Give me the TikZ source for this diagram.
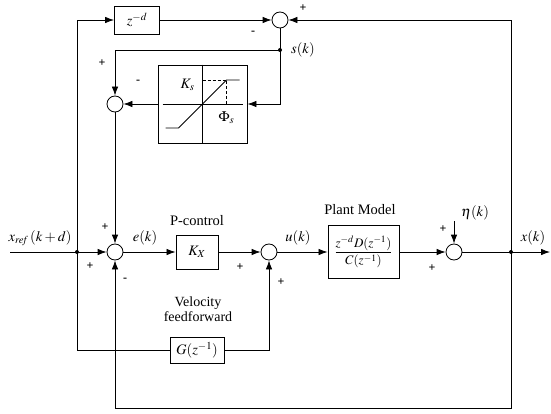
\documentclass[tikz,border=0pt]{standalone}
\usepackage{mathptmx}
\usepackage[no-math]{fontspec}
\setmainfont{Liberation Serif}
\usepackage{amsmath}
\usetikzlibrary{arrows.meta, positioning, calc}

\begin{document}
\begin{tikzpicture}[
  x=1pt, y=-1pt,
  font=\fontsize{14.5}{16}\selectfont,
  blk/.style={draw, line width=0.9pt, inner sep=0pt, align=center},
  sumc/.style={draw, circle, line width=0.8pt, minimum size=16pt, inner sep=0pt},
  arr/.style={-{Latex[length=9pt,width=6.5pt]}, line width=0.8pt},
  ln/.style={line width=0.8pt},
  sgn/.style={font=\fontsize{12}{13}\selectfont\bfseries, inner sep=0pt},
  lbl/.style={inner sep=0pt, align=center}
]
  \useasboundingbox (0,0) rectangle (551,414);

  % blocks
  \node[blk, minimum width=45pt, minimum height=28pt] (zd) at (137,20) {$z^{-d}$};
  \node[blk, minimum width=89pt, minimum height=78pt] (sat) at (202.5,104) {};
  \node[blk, minimum width=42pt, minimum height=34pt] (kx) at (197,252) {$K_X$};
  \node[blk, minimum width=71pt, minimum height=53pt] (plant) at (363.5,252)
    {\fontsize{13}{15}\selectfont$\dfrac{z^{-d}D(z^{-1})}{C(z^{-1})}$};
  \node[blk, minimum width=54pt, minimum height=26pt] (g) at (197,350) {$G(z^{-1})$};

  % summing points
  \node[sumc] (s1) at (280,20) {};
  \node[sumc] (s2) at (115,104) {};
  \node[sumc] (s3) at (115,252) {};
  \node[sumc] (s4) at (269,252) {};
  \node[sumc] (s5) at (454,252) {};

  % junctions and free ends
  \coordinate (sj) at (280,50);
  \coordinate (xj) at (77,252);
  \coordinate (xin) at (10,252);
  \coordinate (oj) at (511,252);
  \coordinate (xout) at (550,252);
  \coordinate (etain) at (454,221);
  \coordinate (fb) at (115,408);

  % saturation characteristic
  \draw[ln] ($(sat.center)+(-40,0)$) -- ($(sat.center)+(40,0)$);
  \draw[ln] (sat.north) -- (sat.south);
  \draw[ln] ($(sat.center)+(-37,24)$) -- ($(sat.center)+(-24,24)$)
    -- ($(sat.center)+(24,-24)$) -- ($(sat.center)+(37,-24)$);
  \draw[ln, densely dashed] ($(sat.center)+(0,-24)$) -- ($(sat.center)+(24,-24)$)
    -- ($(sat.center)+(24,0)$);
  \node[lbl] (ks) at ($(sat.center)+(-15,-19)$) {$K_s$};
  \node[lbl] (phis) at ($(sat.center)+(24,14)$) {$\Phi_s$};

  % forward path
  \draw[arr] (xin) -- (s3);
  \draw[arr] (s3) -- (kx);
  \draw[arr] (kx) -- (s4);
  \draw[arr] (s4) -- (plant);
  \draw[arr] (plant) -- (s5);
  \draw[arr] (s5) -- (xout);
  \draw[arr] (etain) -- (s5);

  % reference branches
  \draw[arr] (xj) |- (zd);
  \draw[ln] (xj) |- (g);
  \draw[arr] (g) -| (s4);

  % feedback paths
  \draw[ln] (oj) -- (oj |- fb) -- (fb);
  \draw[arr] (fb) -- (s3);
  \draw[arr] (oj) |- (s1);
  \draw[arr] (zd) -- (s1);
  \draw[ln] (s1) -- (sj);
  \draw[arr] (sj) |- (sat);
  \draw[arr] (sj) -| (s2);
  \draw[arr] (sat) -- (s2);
  \draw[arr] (s2) -- (s3);

  \foreach \c in {sj, xj, oj} \fill (\c) circle (2pt);

  % signal labels
  \node[lbl] (lref) at (40,238) {$x_{\mathit{ref}}\,(k+d)$};
  \node[lbl] (le) at (145,238) {$e(k)$};
  \node[lbl] (lu) at (298,238) {$u(k)$};
  \node[lbl] (lx) at (533,238) {$x(k)$};
  \node[lbl] (leta) at (475,213) {$\eta(k)$};
  \node[lbl] (ls) at (303,50) {$s(k)$};
  \node[lbl] (lpc) at (197,221) {P-control};
  \node[lbl] (lpm) at (360,210) {Plant Model};
  \node[lbl, font=\fontsize{14}{14.5}\selectfont] (lvf) at (198,309) {Velocity\\feedforward};

  % signs
  \foreach \n/\x/\y/\t in {p1/303/8/+, m1/253/33/-, p2/102/63/+, m2/138/82/-,
      p3/105/227/+, p4/90/266/+, m3/125/280/-, p5/240/267/+, p6/281/282/+,
      p7/443/229/+, p8/432/268/+}
    \node[sgn] (\n) at (\x,\y) {\t};
\end{tikzpicture}
\end{document}
